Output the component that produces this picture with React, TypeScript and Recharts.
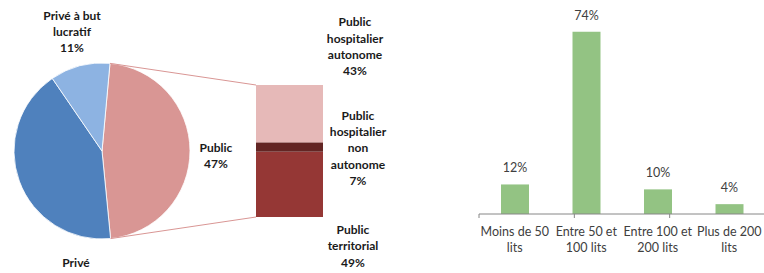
import React from 'react';
import { PieChart, Pie, Cell, BarChart, Bar, XAxis, YAxis, LabelList } from 'recharts';

// ---- data ----
const statusNames = ['Public', 'Privé', 'Privé à but lucratif'];
const statusShares = [47, 42, 11];
const statusLabelLines = [['Public', '47%'], ['Privé'], ['Privé à but', 'lucratif', '11%']];
const statusColors = ['#D99694', '#4F81BD', '#8DB3E2'];

const publicPartKeys = ['territorial', 'nonAutonome', 'autonome'];
const publicPartShares = [49, 7, 43];
const publicPartLabelLines = [
  ['Public', 'territorial', '49%'],
  ['Public', 'hospitalier', 'non', 'autonome', '7%'],
  ['Public', 'hospitalier', 'autonome', '43%'],
];
const publicPartColors = ['#953735', '#632523', '#E6B9B8'];

const sizeCategories = ['Moins de 50\nlits', 'Entre 50 et\n100 lits', 'Entre 100 et\n200 lits', 'Plus de 200\nlits'];
const sizeShares = [12, 74, 10, 4];

// ---- layout (not data) ----
const FONT = 'Lato, "Noto Sans", sans-serif';
const PIE_CX = 102;
const PIE_CY = 151;
const PIE_R = 88;
const PIE_START = 84.8;
const pieLabelOffsets = [
  { dx: 114, dy: -3 },
  { dx: -26, dy: 112 },
  { dx: -30, dy: -135 },
];
const partLabelOffsets = [
  { dx: 30, dy: 78 },
  { dx: 35, dy: -27 },
  { dx: 32, dy: -63 },
];

const pieData = statusNames.map((name, i) => ({ name, value: statusShares[i] }));
const publicRow: Record<string, any> = { name: 'Public' };
publicPartKeys.forEach((k, i) => (publicRow[k] = publicPartShares[i]));
const publicData = [publicRow];
const sizeData = sizeCategories.map((label, i) => ({ label, value: sizeShares[i] }));

const publicAngleSpan = (statusShares[0] / statusShares.reduce((a, b) => a + b, 0)) * 360;
const pt = (deg: number) => ({
  x: PIE_CX + PIE_R * Math.cos((deg * Math.PI) / 180),
  y: PIE_CY - PIE_R * Math.sin((deg * Math.PI) / 180),
});
const pieTop = pt(PIE_START);
const pieBottom = pt(PIE_START - publicAngleSpan);

const renderPieLabel = (props: any) => {
  const { cx, cy, index } = props;
  const off = pieLabelOffsets[index];
  const lines = statusLabelLines[index];
  return (
    <g>
      {lines.map((ln, i) => (
        <text
          key={i}
          x={cx + off.dx}
          y={cy + off.dy + i * 16 + 4.3}
          textAnchor="middle"
          fontFamily={FONT}
          fontWeight="bold"
          fontSize={12}
          fill="#1a1a1a"
        >
          {ln}
        </text>
      ))}
    </g>
  );
};

const makePartLabel = (idx: number) => (props: any) => {
  const vb = props.viewBox && props.viewBox.width !== undefined ? props.viewBox : props;
  const { x, y, width } = vb;
  const off = partLabelOffsets[idx];
  const lines = publicPartLabelLines[idx];
  return (
    <g>
      {lines.map((ln, i) => (
        <text
          key={i}
          x={x + width + off.dx}
          y={y + off.dy + i * 16.3 + 4.3}
          textAnchor="middle"
          fontFamily={FONT}
          fontWeight="bold"
          fontSize={12}
          fill="#1a1a1a"
        >
          {ln}
        </text>
      ))}
    </g>
  );
};

const makePartShape = (idx: number) => (props: any) => {
  const { x, y, width, height, fill } = props;
  return (
    <g>
      <rect x={x} y={y} width={width} height={height} fill={fill} />
      {idx === 0 && (
        <line x1={pieBottom.x} y1={pieBottom.y} x2={x} y2={y + height} stroke="#D99694" strokeWidth={1} />
      )}
      {idx === 2 && <line x1={pieTop.x} y1={pieTop.y} x2={x} y2={y} stroke="#D99694" strokeWidth={1} />}
    </g>
  );
};

const SizeTick = (props: any) => {
  const { x, y, payload } = props;
  const lines = String(payload.value).split('\n');
  return (
    <g>
      {lines.map((ln, i) => (
        <text key={i} x={x} y={y + 18 + i * 16} textAnchor="middle" fontFamily={FONT} fontSize={12.5} fill="#404040">
          {ln}
        </text>
      ))}
    </g>
  );
};

export default function App() {
  return (
    <div style={{ position: 'absolute', left: 0, top: 0, width: 764, height: 273, overflow: 'hidden', background: '#fff' }}>
      <div style={{ position: 'absolute', left: 0, top: 0 }}>
        <PieChart width={400} height={273} margin={{ top: 0, right: 0, bottom: 0, left: 0 }}>
          <Pie
            data={pieData}
            dataKey="value"
            nameKey="name"
            cx={PIE_CX}
            cy={PIE_CY}
            outerRadius={PIE_R}
            startAngle={PIE_START}
            endAngle={PIE_START - 360}
            stroke="#ffffff"
            strokeWidth={0.8}
            label={renderPieLabel}
            labelLine={false}
            isAnimationActive={false}
          >
            {pieData.map((d, i) => (
              <Cell key={d.name} fill={statusColors[i]} />
            ))}
          </Pie>
        </PieChart>
      </div>
      <div style={{ position: 'absolute', left: 0, top: 0 }}>
        <BarChart
          width={400}
          height={273}
          data={publicData}
          margin={{ top: 85, right: 77, bottom: 56, left: 256 }}
          barCategoryGap={0}
        >
          <XAxis dataKey="name" hide />
          <YAxis hide domain={[0, 99]} />
          {publicPartKeys.map((k, i) => (
            <Bar
              key={k}
              dataKey={k}
              stackId="p"
              fill={publicPartColors[i]}
              shape={makePartShape(i)}
              isAnimationActive={false}
            >
              <LabelList dataKey={k} content={makePartLabel(i)} />
            </Bar>
          ))}
        </BarChart>
      </div>
      <div style={{ position: 'absolute', left: 470, top: 0 }}>
        <BarChart width={296} height={273} data={sizeData} margin={{ top: 17, right: 1, bottom: 15, left: 9 }}>
          <XAxis
            xAxisId="b"
            dataKey="label"
            height={40}
            axisLine={false}
            tickLine={false}
            tickSize={0}
            tickMargin={0}
            interval={0}
            tick={<SizeTick />}
          />
          <XAxis
            xAxisId="a"
            type="number"
            domain={[0, 4]}
            ticks={[0, 1, 2, 3, 4]}
            tickFormatter={() => ''}
            tickSize={4}
            height={4}
            axisLine={{ stroke: '#868686' }}
            tickLine={{ stroke: '#868686' }}
          />
          <YAxis hide domain={[0, 80]} />
          <Bar xAxisId="b" dataKey="value" fill="#93C383" barSize={28} isAnimationActive={false}>
            <LabelList
              dataKey="value"
              position="top"
              offset={12}
              formatter={(v: any) => `${v}%`}
              fill="#404040"
              fontFamily={FONT}
              fontSize={12.5}
            />
          </Bar>
        </BarChart>
      </div>
    </div>
  );
}
